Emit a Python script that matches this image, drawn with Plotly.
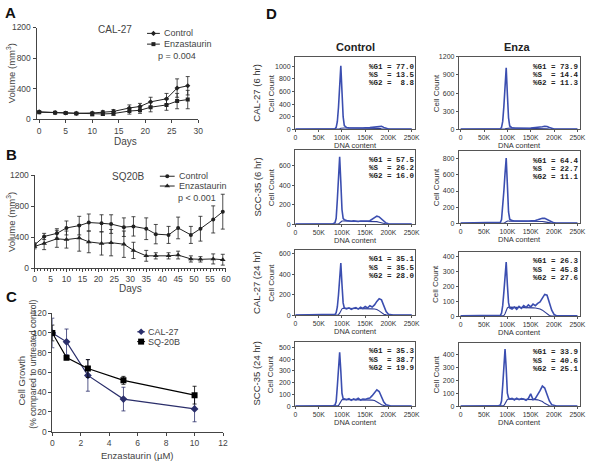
import plotly.graph_objects as go

W, H = 600, 466
def fx(px): return px / W
def fy(py): return 1 - py / H

FONT = "Liberation Sans, Arial, sans-serif"
MONO = "Liberation Mono, Courier New, monospace"
GRAY = "#444444"
DARK = "#222222"
BLUE = "#3b4eb0"
BLUE2 = "#2e3c95"
NAVY = "#2b2f6b"

# ---------------- Panel A : CAL-27 xenograft ----------------
a_days = [0, 3, 5, 7, 10, 12, 14, 17, 19, 21, 24, 26, 28]
a_ctrl = [100, 90, 85, 80, 85, 95, 105, 150, 170, 230, 270, 410, 440]
a_ctrl_err = [10, 10, 10, 10, 15, 20, 25, 40, 40, 60, 70, 120, 120]
a_enza = [95, 88, 85, 78, 70, 72, 78, 110, 120, 160, 190, 240, 260]
a_enza_err = [10, 10, 10, 10, 20, 20, 25, 40, 40, 60, 70, 100, 120]

# ---------------- Panel B : SQ20B xenograft ----------------
b_days = [0, 3, 7, 10, 14, 17, 21, 24, 28, 31, 35, 38, 42, 45, 49, 52, 56, 59]
b_ctrl = [300, 410, 450, 520, 550, 590, 580, 570, 530, 540, 510, 440, 430, 520, 430, 510, 630, 730]
b_ctrl_err = [30, 40, 60, 90, 120, 110, 110, 120, 120, 125, 140, 125, 110, 140, 110, 160, 175, 225]
b_enza = [280, 320, 380, 370, 390, 340, 320, 330, 310, 230, 160, 160, 160, 170, 120, 115, 120, 110]
b_enza_err = [30, 80, 110, 110, 170, 140, 150, 170, 170, 105, 70, 40, 40, 50, 40, 35, 65, 70]

# ---------------- Panel C : cell growth ----------------
c_conc = [0, 1, 2.5, 5, 10]
c_cal = [100, 91, 57, 33, 23]
c_cal_err = [15, 13, 16, 12, 13]
c_sq = [100, 75, 64, 52, 37]
c_sq_err = [8, 2, 9, 4, 9]

# ---------------- Panel D : DNA content histograms ----------------
dna_k = [0, 80, 85, 87.5, 90, 92.5, 95, 97.5, 100, 102.5, 105, 110, 115, 120, 125, 130,
         135, 140, 145, 150, 155, 160, 165, 170, 175, 180, 185, 190, 195, 200, 205, 210, 250]
dna_ticks = [0, 50, 100, 150, 200, 250]
dna_ticktext = ["0", "50K", "100K", "150K", "200K", "250K"]

hist_cal6_ctrl = [2, 2, 8, 30, 120, 350, 700, 1010, 600, 200, 60, 28, 22, 20, 22, 18, 20, 22, 20, 24,
                  22, 26, 30, 36, 45, 52, 48, 30, 12, 5, 3, 2, 2]
hist_cal6_enza = [2, 2, 8, 30, 130, 380, 720, 1020, 580, 190, 55, 25, 20, 18, 20, 17, 18, 20, 18, 20,
                  22, 24, 28, 34, 42, 50, 46, 28, 10, 4, 2, 2, 2]
hist_scc6_ctrl = [2, 2, 15, 60, 250, 520, 690, 430, 150, 60, 45, 38, 32, 30, 34, 30, 28, 32, 30, 34,
                  32, 36, 50, 68, 82, 75, 55, 30, 12, 5, 3, 2, 2]
hist_scc6_enza = [2, 2, 10, 45, 180, 400, 620, 810, 480, 140, 50, 32, 28, 26, 28, 25, 27, 26, 28, 27,
                  30, 34, 42, 52, 62, 60, 45, 25, 10, 4, 2, 2, 2]
hist_cal24_ctrl = [2, 2, 8, 25, 80, 200, 380, 510, 300, 120, 70, 62, 72, 58, 68, 75, 60, 78, 66, 85,
                   70, 92, 80, 100, 135, 160, 150, 90, 35, 10, 3, 2, 2]
hist_cal24_enza = [2, 2, 6, 20, 70, 160, 280, 360, 210, 90, 55, 48, 60, 45, 65, 52, 70, 58, 75, 62,
                   80, 70, 85, 95, 120, 145, 140, 90, 40, 12, 3, 2, 2]
hist_scc24_ctrl = [2, 2, 10, 40, 170, 360, 460, 300, 110, 65, 60, 55, 65, 50, 62, 55, 68, 52, 60, 58,
                   65, 70, 90, 120, 140, 125, 80, 35, 12, 4, 2, 2, 2]
hist_scc24_enza = [2, 2, 10, 40, 160, 340, 440, 290, 100, 65, 55, 60, 48, 62, 50, 58, 55, 45, 60, 95,
                   50, 60, 85, 120, 155, 140, 90, 40, 12, 4, 2, 2, 2]

sfit_cal6_ctrl = [0, 0, 0, 0, 0, 2, 8, 16, 20, 21, 21, 21, 21, 21, 21, 21, 21, 21, 21, 21,
                  21, 21, 21, 21, 20, 15, 8, 3, 1, 0, 0, 0, 0]
sfit_cal6_enza = [0, 0, 0, 0, 0, 2, 7, 14, 18, 19, 19, 19, 19, 19, 19, 19, 19, 19, 19, 19,
                  19, 19, 19, 19, 18, 14, 8, 3, 1, 0, 0, 0, 0]
sfit_scc6_ctrl = [0, 0, 0, 0, 0, 3, 12, 25, 32, 33, 32, 31, 31, 30, 30, 30, 30, 30, 30, 30,
                  30, 30, 29, 28, 26, 20, 12, 5, 2, 0, 0, 0, 0]
sfit_scc6_enza = [0, 0, 0, 0, 0, 3, 10, 20, 26, 27, 27, 27, 26, 26, 26, 26, 26, 26, 26, 26,
                  26, 26, 25, 24, 22, 17, 10, 4, 1, 0, 0, 0, 0]
sfit_cal24_ctrl = [0, 0, 0, 0, 0, 5, 20, 45, 62, 68, 68, 68, 67, 67, 66, 66, 66, 65, 65, 64,
                   64, 63, 62, 60, 55, 42, 25, 10, 3, 0, 0, 0, 0]
sfit_cal24_enza = [0, 0, 0, 0, 0, 4, 16, 38, 55, 60, 60, 60, 60, 60, 60, 60, 59, 58, 57, 56,
                   55, 54, 52, 48, 40, 28, 14, 5, 1, 0, 0, 0, 0]
sfit_scc24_ctrl = [0, 0, 0, 0, 0, 5, 22, 45, 56, 58, 58, 58, 58, 57, 57, 57, 57, 56, 56, 56,
                   55, 54, 52, 48, 40, 26, 12, 4, 1, 0, 0, 0, 0]
sfit_scc24_enza = [0, 0, 0, 0, 0, 5, 20, 42, 52, 55, 55, 55, 55, 55, 54, 54, 54, 54, 53, 53,
                   52, 51, 49, 45, 36, 22, 10, 3, 1, 0, 0, 0, 0]

pct_cal6_ctrl = [77.0, 13.5, 8.8]
pct_cal6_enza = [73.9, 14.4, 11.3]
pct_scc6_ctrl = [57.5, 26.2, 16.0]
pct_scc6_enza = [64.4, 22.7, 11.1]
pct_cal24_ctrl = [35.1, 35.5, 28.0]
pct_cal24_enza = [26.3, 45.8, 27.6]
pct_scc24_ctrl = [35.3, 38.7, 19.9]
pct_scc24_enza = [33.9, 40.6, 25.1]

row_labels = ["CAL-27 (6 hr)", "SCC-35 (6 hr)", "CAL-27 (24 hr)", "SCC-35 (24 hr)"]
col_titles = ["Control", "Enza"]

# ---------------------------------------------------------------
fig = go.Figure()
annotations = []

def ann(text, px, py, size=9, color=GRAY, angle=0, xanchor="center", yanchor="middle",
        bold=False, family=FONT):
    annotations.append(dict(
        text=f"<b>{text}</b>" if bold else text, x=fx(px), y=fy(py), xref="paper", yref="paper",
        showarrow=False, font=dict(size=size, color=color, family=family), textangle=angle,
        xanchor=xanchor, yanchor=yanchor))

def left_axis(domain_px, rng, **kw):
    d = dict(domain=domain_px, range=rng, showline=True, linecolor=GRAY, linewidth=1,
             ticks="outside", ticklen=3, tickcolor=GRAY, tickwidth=1, showgrid=False,
             zeroline=False, tickfont=dict(size=8.5, color=GRAY, family=FONT))
    d.update(kw)
    return d

layout = dict(width=W, height=H, margin=dict(l=0, r=0, t=0, b=0), paper_bgcolor="white",
              plot_bgcolor="rgba(0,0,0,0)", showlegend=False,
              font=dict(family=FONT, size=9, color=GRAY))

# ---- Panel A ----
layout["xaxis"] = left_axis([fx(35), fx(199)], [-0.5, 30], anchor="y",
                            tickvals=[0, 5, 10, 15, 20, 25, 30])
layout["yaxis"] = left_axis([fy(117), fy(23)], [0, 1200], anchor="x",
                            tickvals=[0, 400, 800, 1200])
eb = lambda e: dict(type="data", array=e, visible=True, color=DARK, thickness=0.8, width=2)
fig.add_trace(go.Scatter(x=a_days, y=a_ctrl, mode="lines+markers", xaxis="x", yaxis="y",
                         line=dict(color=DARK, width=1), error_y=eb(a_ctrl_err),
                         marker=dict(symbol="diamond", size=4, color=DARK)))
fig.add_trace(go.Scatter(x=a_days, y=a_enza, mode="lines+markers", xaxis="x", yaxis="y",
                         line=dict(color=DARK, width=1), error_y=eb(a_enza_err),
                         marker=dict(symbol="square", size=4, color=DARK)))

# ---- Panel B ----
layout["xaxis2"] = left_axis([fx(33), fx(227)], [0, 60], anchor="y2",
                             tickvals=list(range(0, 61, 5)),
                             minor=dict(dtick=1, ticks="outside", ticklen=2, tickcolor=GRAY))
layout["yaxis2"] = left_axis([fy(269), fy(174)], [0, 1200], anchor="x2",
                             tickvals=[0, 400, 800, 1200])
fig.add_trace(go.Scatter(x=b_days, y=b_ctrl, mode="lines+markers", xaxis="x2", yaxis="y2",
                         line=dict(color=DARK, width=1), error_y=eb(b_ctrl_err),
                         marker=dict(symbol="circle", size=4, color=DARK)))
fig.add_trace(go.Scatter(x=b_days, y=b_enza, mode="lines+markers", xaxis="x2", yaxis="y2",
                         line=dict(color=DARK, width=1), error_y=eb(b_enza_err),
                         marker=dict(symbol="triangle-up", size=5, color=DARK)))

# ---- Panel C ----
layout["xaxis3"] = left_axis([fx(51), fx(224)], [0, 12], anchor="y3", dtick=2)
layout["yaxis3"] = left_axis([fy(436), fy(315)], [0, 120], anchor="x3", dtick=20)
fig.add_trace(go.Scatter(x=c_conc, y=c_cal, mode="lines+markers", xaxis="x3", yaxis="y3",
                         line=dict(color=NAVY, width=1.2),
                         error_y=dict(type="data", array=c_cal_err, color=NAVY, thickness=0.8, width=2),
                         marker=dict(symbol="diamond", size=6, color=NAVY)))
fig.add_trace(go.Scatter(x=c_conc, y=c_sq, mode="lines+markers", xaxis="x3", yaxis="y3",
                         line=dict(color="black", width=1.2),
                         error_y=dict(type="data", array=c_sq_err, color="black", thickness=0.8, width=2),
                         marker=dict(symbol="square", size=6, color="black")))

# ---- Panel D ----
hists = [hist_cal6_ctrl, hist_cal6_enza, hist_scc6_ctrl, hist_scc6_enza,
         hist_cal24_ctrl, hist_cal24_enza, hist_scc24_ctrl, hist_scc24_enza]
sfits = [sfit_cal6_ctrl, sfit_cal6_enza, sfit_scc6_ctrl, sfit_scc6_enza,
         sfit_cal24_ctrl, sfit_cal24_enza, sfit_scc24_ctrl, sfit_scc24_enza]
pcts = [pct_cal6_ctrl, pct_cal6_enza, pct_scc6_ctrl, pct_scc6_enza,
        pct_cal24_ctrl, pct_cal24_enza, pct_scc24_ctrl, pct_scc24_enza]

col_px = [(297, 419), (463, 586)]
col_xrange = [[-1, 258], [-4, 256]]
col_text_x = [370, 536]
col_cellcount_x = [273, 440]
col_center = [358, 524]
row_px = [[(53, 127), (53, 127)], [(148, 224), (149, 223)],
          [(250, 317), (252, 318)], [(344, 410), (345, 410)]]
yranges = [[1150, 1200], [760, 900], [640, 430], [550, 490]]
ydticks = [[200, 300], [200, 200], [200, 100], [100, 100]]

for i in range(8):
    r, c = divmod(i, 2)
    n = i + 4
    top, bot = row_px[r][c]
    xl, xr = col_px[c]
    layout[f"xaxis{n}"] = dict(domain=[fx(xl), fx(xr)], range=col_xrange[c], anchor=f"y{n}",
                               showline=True, mirror=True, linecolor="#555555", linewidth=1,
                               ticks="outside", ticklen=2, tickcolor="#555555",
                               tickvals=dna_ticks, ticktext=dna_ticktext, showgrid=False,
                               zeroline=False, tickfont=dict(size=6.8, color="#333333", family=FONT))
    layout[f"yaxis{n}"] = dict(domain=[fy(bot), fy(top)], range=[0, yranges[r][c]], anchor=f"x{n}",
                               showline=True, mirror=True, linecolor="#555555", linewidth=1,
                               ticks="outside", ticklen=2, tickcolor="#555555",
                               dtick=ydticks[r][c], showgrid=False, zeroline=False,
                               tickfont=dict(size=7, color="#333333", family=FONT))
    fig.add_trace(go.Scatter(x=dna_k, y=sfits[i], mode="lines", xaxis=f"x{n}", yaxis=f"y{n}",
                             line=dict(color=BLUE2, width=1.1)))
    fig.add_trace(go.Scatter(x=dna_k, y=hists[i], mode="lines", xaxis=f"x{n}", yaxis=f"y{n}",
                             line=dict(color=BLUE, width=1.6)))
    g1, s, g2 = pcts[i]
    nb = "\u00a0"
    lines = [f"%G1{nb}={nb}{g1:4.1f}".replace(" ", nb),
             f"%S{nb}{nb}={nb}{s:4.1f}".replace(" ", nb),
             f"%G2{nb}={nb}{g2:4.1f}".replace(" ", nb)]
    for k, t in enumerate(lines):
        ann(t, col_text_x[c], top + 10 + k * 8.5, size=7.5, color="#222222",
            xanchor="left", bold=True, family=MONO)
    ann("Cell Count", col_cellcount_x[c], (top + bot) / 2, size=8, color="#333333", angle=-90)
    ann("DNA content", col_center[c], bot + 16.5, size=7.5, color="#333333")
    if c == 0:
        ann(row_labels[r], 258, (top + bot) / 2, size=9.5, color="#333333", angle=-90)

ann(col_titles[0], 358, 43, size=11, color="#222222", bold=True)
ann(col_titles[1], 522, 43, size=11, color="#222222", bold=True)

# ---- legend samples (overlay pixel axis) ----
layout["xaxis12"] = dict(domain=[0, 1], range=[0, W], visible=False, fixedrange=True, anchor="y12")
layout["yaxis12"] = dict(domain=[0, 1], range=[H, 0], visible=False, fixedrange=True, anchor="x12")

def legend_key(x0, x1, y, symbol, size, color):
    fig.add_trace(go.Scatter(x=[x0, x1], y=[y, y], mode="lines", xaxis="x12", yaxis="y12",
                             line=dict(color=color, width=1), hoverinfo="skip"))
    fig.add_trace(go.Scatter(x=[(x0 + x1) / 2], y=[y], mode="markers", xaxis="x12", yaxis="y12",
                             marker=dict(symbol=symbol, size=size, color=color), hoverinfo="skip"))

legend_key(147, 160, 29, "diamond", 4, DARK)
legend_key(147, 160, 40, "square", 4, DARK)
legend_key(160, 175, 175, "circle", 4, DARK)
legend_key(160, 175, 185, "triangle-up", 5, DARK)
legend_key(137, 145, 334, "diamond", 5, NAVY)
legend_key(137, 145, 344, "square", 6, "black")

# ---- texts, panels A-C ----
ann("Control", 162, 29, size=9, xanchor="left")
ann("Enzastaurin", 162, 40, size=9, xanchor="left")
ann("p = 0.004", 177, 52, size=9)
ann("CAL-27", 115, 25, size=10)
ann("Volume (mm<sup>3</sup>)", 10, 70, size=9.5, angle=-90)
ann("Days", 125, 140, size=10)

ann("Control", 177, 175, size=9, xanchor="left")
ann("Enzastaurin", 177, 185, size=9, xanchor="left")
ann("p < 0.001", 176, 197, size=9, xanchor="left")
ann("SQ20B", 128, 175, size=10)
ann("Volume (mm<sup>3</sup>)", 9, 222, size=9.5, angle=-90)
ann("Days", 130, 290, size=10)

ann("CAL-27", 146, 334, size=9, xanchor="left")
ann("SQ-20B", 146, 344, size=9, xanchor="left")
ann("Cell Growth", 20, 384, size=9.5, angle=-90)
ann("(% compared to untreated control)", 32, 367, size=8.5, angle=-90)
ann("Enzastaurin (\u00b5M)", 137, 460, size=9.5)

ann("A", 9, 8, size=15, color="#111111", bold=True)
ann("B", 10, 153, size=15, color="#111111", bold=True)
ann("C", 10, 298, size=15, color="#111111", bold=True)
ann("D", 273, 9, size=15, color="#111111", bold=True)

layout["annotations"] = annotations
fig.update_layout(**layout)
fig.write_html("out.html", config={"displayModeBar": False, "staticPlot": True},
               post_script="document.body.style.margin='0';document.body.style.padding='0';"
                           "document.body.style.overflow='hidden';")
